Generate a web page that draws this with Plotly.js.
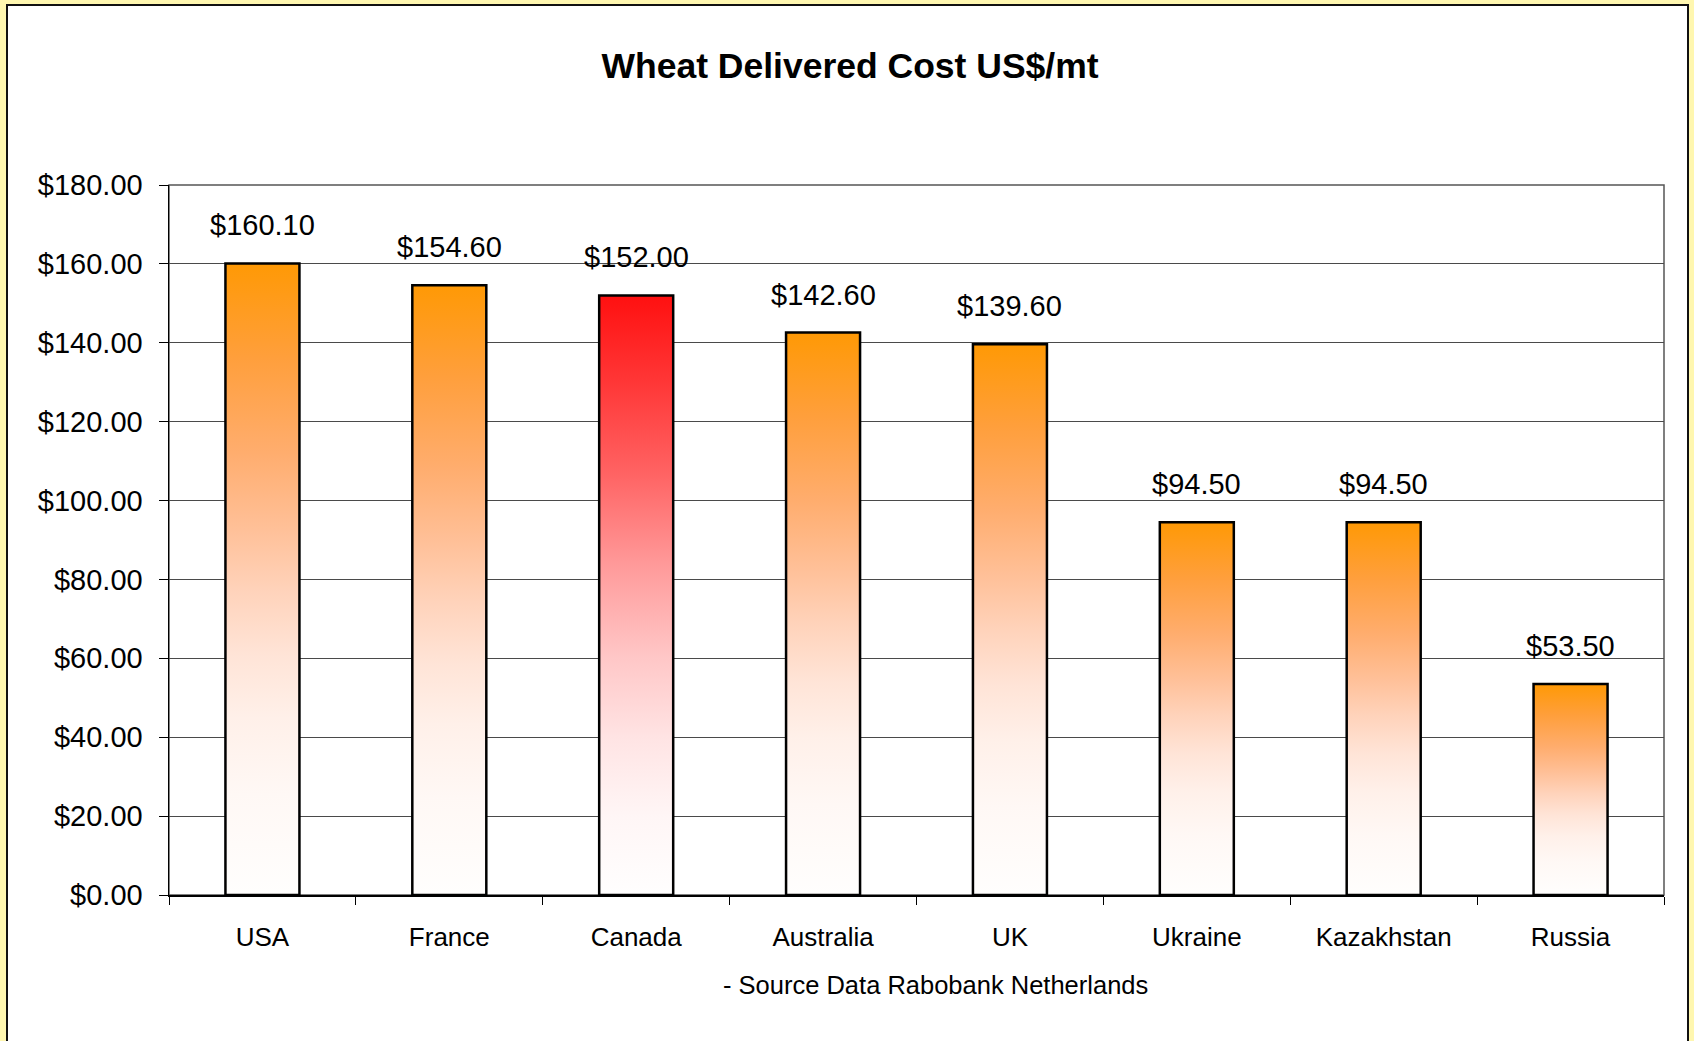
<!DOCTYPE html>
<html>
<head>
<meta charset="utf-8">
<script src="https://cdn.plot.ly/plotly-3.0.1.min.js"></script>
<style>
  html, body { margin: 0; padding: 0; background: #FFF7B0; overflow: hidden; }
  #frame { position: absolute; left: 6px; top: 4px; width: 1683px; height: 1100px;
           box-sizing: border-box; border: 2px solid #111; background: #fff; }
  #chart { width: 1679px; height: 1035px; }
</style>
</head>
<body>
<div id="frame"><div id="chart"></div></div>
<script>
// ---- data ----
const countries = ['USA', 'France', 'Canada', 'Australia', 'UK', 'Ukraine', 'Kazakhstan', 'Russia'];
const costs = [160.10, 154.60, 152.00, 142.60, 139.60, 94.50, 94.50, 53.50];
const highlighted = ['Canada'];
const chartTitle = 'Wheat Delivered Cost US$/mt';
const sourceNote = '- Source Data Rabobank Netherlands';

// ---- styles ----
const FONT = 'Liberation Sans, Arial, sans-serif';
const ORANGE = '#FF9900', RED = '#FF1010';
const barColors = countries.map(c => highlighted.includes(c) ? RED : ORANGE);

const trace = {
  type: 'bar',
  x: countries,
  y: costs,
  marker: { color: barColors, line: { color: '#000', width: 2.5 } },
  hoverinfo: 'x+y',
  showlegend: false
};

const labels = countries.map((c, i) => ({
  x: c, y: costs[i], xref: 'x', yref: 'y',
  text: '$' + costs[i].toFixed(2),
  showarrow: false, yanchor: 'middle', xanchor: 'center', yshift: 38,
  font: { family: FONT, size: 29, color: '#000' }
}));

labels.push({
  xref: 'paper', yref: 'paper', x: 0.513, y: 0, yshift: -90,
  xanchor: 'center', yanchor: 'middle', showarrow: false,
  text: sourceNote, font: { family: FONT, size: 25.5, color: '#000' }
});

const layout = {
  width: 1679, height: 1035,
  margin: { l: 161, r: 23, t: 179, b: 146 },
  paper_bgcolor: '#fff', plot_bgcolor: '#fff',
  font: { family: FONT, color: '#000' },
  title: {
    text: '<b>' + chartTitle + '</b>',
    font: { family: FONT, size: 35.5, color: '#000' },
    x: 0.5015, xref: 'container', xanchor: 'center',
    y: 1 - 60 / 1035, yref: 'container', yanchor: 'middle'
  },
  bargap: 0.604,
  xaxis: {
    type: 'category',
    tickson: 'boundaries', ticks: 'outside', ticklen: 8, tickcolor: '#000', tickwidth: 1,
    showline: true, linecolor: '#000', linewidth: 1.5,
    showgrid: false,
    tickfont: { family: FONT, size: 26, color: '#000' },
    ticklabelstandoff: 18,
    fixedrange: true
  },
  yaxis: {
    range: [0, 180], dtick: 20, tick0: 0,
    tickprefix: '$', tickformat: '.2f',
    ticks: 'outside', ticklen: 9, tickcolor: '#000', tickwidth: 1,
    showline: true, linecolor: '#000', linewidth: 1.5,
    showgrid: true, gridcolor: '#4a4a4a', gridwidth: 1,
    zeroline: false,
    tickfont: { family: FONT, size: 29, color: '#000' },
    ticklabelstandoff: 10,
    fixedrange: true
  },
  shapes: [{
    type: 'rect', xref: 'paper', yref: 'paper', x0: 0, x1: 1, y0: 0, y1: 1,
    line: { color: '#555', width: 1.5 }, fillcolor: 'rgba(0,0,0,0)', layer: 'below'
  }],
  annotations: labels
};

const gradients = {
  gOrange: [[0, '#FF9905'], [0.15, '#FF9F3C'], [0.3, '#FFAD6E'], [0.42, '#FFC098'],
            [0.52, '#FFD3BB'], [0.62, '#FFE4D7'], [0.72, '#FFF0E9'], [0.84, '#FFF8F5'], [1, '#FFFEFD']],
  gRed: [[0, '#FF1010'], [0.15, '#FF3838'], [0.3, '#FF6464'], [0.45, '#FF9A9A'],
         [0.6, '#FFC6C6'], [0.74, '#FFE4E4'], [0.87, '#FFF6F6'], [1, '#FFFEFE']]
};

Plotly.newPlot('chart', [trace], layout, { displayModeBar: false, staticPlot: true }).then(gd => {
  const svg = gd.querySelector('svg.main-svg');
  let defs = svg.querySelector('defs');
  const NS = 'http://www.w3.org/2000/svg';
  Object.keys(gradients).forEach(id => {
    const lg = document.createElementNS(NS, 'linearGradient');
    lg.setAttribute('id', id);
    lg.setAttribute('x1', '0'); lg.setAttribute('y1', '0');
    lg.setAttribute('x2', '0'); lg.setAttribute('y2', '1');
    gradients[id].forEach(([o, c]) => {
      const s = document.createElementNS(NS, 'stop');
      s.setAttribute('offset', o);
      s.setAttribute('stop-color', c);
      lg.appendChild(s);
    });
    defs.appendChild(lg);
  });
  const paths = gd.querySelectorAll('.barlayer .point path');
  paths.forEach((p, i) => {
    const id = highlighted.includes(countries[i]) ? 'gRed' : 'gOrange';
    p.style.fill = 'url(#' + id + ')';
  });
});
</script>
</body>
</html>
